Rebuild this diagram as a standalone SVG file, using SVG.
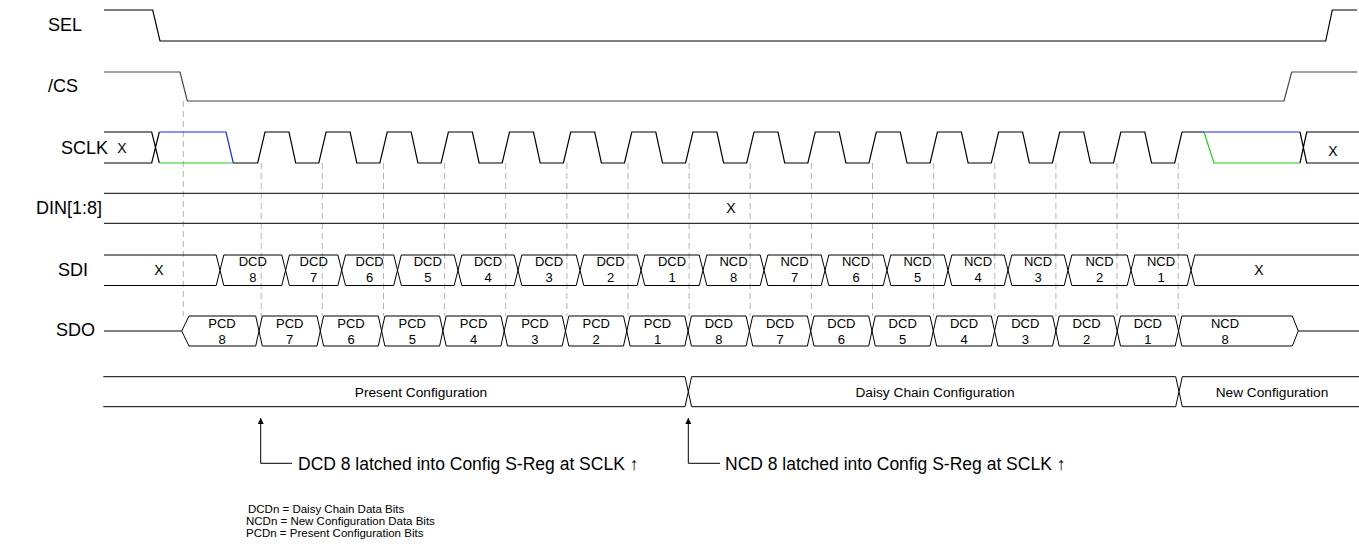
<svg xmlns="http://www.w3.org/2000/svg" width="1359" height="552" viewBox="0 0 1359 552">
<style>
.sig{fill:none;stroke:#000;stroke-width:1.2}
.cs{fill:none;stroke:#444;stroke-width:1.2}
.bus{fill:none;stroke:#000;stroke-width:1}
.dash{fill:none;stroke:#b4b4b4;stroke-width:1;stroke-dasharray:6,4}
.lbl{font-family:"Liberation Sans",Arial,sans-serif;font-size:18px;fill:#000}
.cell{font-family:"Liberation Sans",Arial,sans-serif;font-size:13px;fill:#000;text-anchor:middle}
.x{font-family:"Liberation Sans",Arial,sans-serif;font-size:14px;fill:#000;text-anchor:middle}
.cfg{font-family:"Liberation Sans",Arial,sans-serif;font-size:13.7px;fill:#000;text-anchor:middle}
.note{font-family:"Liberation Sans",Arial,sans-serif;font-size:17.5px;fill:#000}
.leg{font-family:"Liberation Sans",Arial,sans-serif;font-size:11.5px;fill:#000}
</style>
<defs>
<marker id="ah" markerWidth="8" markerHeight="8" refX="6" refY="3" orient="auto" markerUnits="userSpaceOnUse">
<path d="M0,0 L6,3 L0,6 Z" fill="#000"/>
</marker>
</defs>

<g id="guides">
<path class="dash" d="M183.3,101 V316 M261.2,163 V316 M322.3,163 V316 M383.5,163 V316 M444.6,163 V316 M505.7,163 V316 M566.9,163 V316 M628,163 V316 M689.1,163 V316 M750.2,163 V316 M811.4,163 V316 M872.5,163 V316 M933.6,163 V316 M994.8,163 V316 M1055.9,163 V316 M1117,163 V316 M1178.2,163 V316"/>
</g>

<g id="labels">
<text class="lbl" x="48" y="31">SEL</text>
<text class="lbl" x="48" y="92">/CS</text>
<text class="lbl" x="61" y="154">SCLK</text>
<text class="lbl" x="36" y="214">DIN[1:8]</text>
<text class="lbl" x="58" y="276">SDI</text>
<text class="lbl" x="56" y="336">SDO</text>
</g>

<g id="SEL">
<path class="sig" d="M104,10 H152.7 L160,41 H1325.7 L1332.3,10 H1357"/>
</g>

<g id="CS">
<path class="cs" d="M104,72 H180 L187.3,101 H1284 L1291.7,72 H1357"/>
</g>

<g id="SCLK">
<path class="sig" d="M104,132 H151.7 L159.3,163 M104,163 H151.7 L159.3,132"/>
<path fill="none" stroke="#2222ee" stroke-width="1.2" d="M159.3,132 H226 L233.3,163 M1204,132 H1300"/>
<path fill="none" stroke="#22cc22" stroke-width="1.2" d="M159.3,163 H233.3 M1204,132 L1214,163 H1300"/>
<path class="sig" d="M233.3,163 H257.7 L265,132 H289 L295.7,163 H318.8 L326.1,132 H350.1 L356.8,163 H379.9 L387.2,132 H411.2 L417.9,163 H441.1 L448.4,132 H472.4 L479.1,163 H502.2 L509.5,132 H533.5 L540.2,163 H563.4 L570.7,132 H594.7 L601.4,163 H624.5 L631.8,132 H655.8 L662.5,163 H685.6 L692.9,132 H716.9 L723.6,163 H746.7 L754,132 H778 L784.7,163 H807.9 L815.2,132 H839.2 L845.9,163 H869 L876.3,132 H900.3 L907,163 H930.1 L937.4,132 H961.4 L968.1,163 H991.3 L998.6,132 H1022.6 L1029.3,163 H1052.4 L1059.7,132 H1083.7 L1090.4,163 H1113.5 L1120.8,132 H1144.8 L1151.5,163 H1174.7 L1182,132 H1204"/>
<path class="sig" d="M1300,132 L1306.7,163 H1359 M1300,163 L1306.7,132 H1359"/>
<text class="x" x="122" y="153">X</text>
<text class="x" x="1333" y="156">X</text>
</g>

<g id="DIN">
<path class="bus" d="M104,193.3 H1359 M104,223.3 H1359"/>
<text class="x" x="731" y="213">X</text>
</g>

<g id="SDI">
<path class="bus" d="M104,255 H216.2 L220,270.25 L216.2,285.5 H104
M220,270.25 L223.8,255 H281.8 L285.6,270.25 L281.8,285.5 H223.8 Z
M285.6,270.25 L289.4,255 H337.9 L341.7,270.25 L337.9,285.5 H289.4 Z
M341.7,270.25 L345.5,255 H393.7 L397.5,270.25 L393.7,285.5 H345.5 Z
M397.5,270.25 L401.3,255 H454.2 L458,270.25 L454.2,285.5 H401.3 Z
M458,270.25 L461.8,255 H514.2 L518,270.25 L514.2,285.5 H461.8 Z
M518,270.25 L521.8,255 H576.2 L580,270.25 L576.2,285.5 H521.8 Z
M580,270.25 L583.8,255 H637.2 L641,270.25 L637.2,285.5 H583.8 Z
M641,270.25 L644.8,255 H699.2 L703,270.25 L699.2,285.5 H644.8 Z
M703,270.25 L706.8,255 H760.2 L764,270.25 L760.2,285.5 H706.8 Z
M764,270.25 L767.8,255 H821.2 L825,270.25 L821.2,285.5 H767.8 Z
M825,270.25 L828.8,255 H883.2 L887,270.25 L883.2,285.5 H828.8 Z
M887,270.25 L890.8,255 H944.2 L948,270.25 L944.2,285.5 H890.8 Z
M948,270.25 L951.8,255 H1004.2 L1008,270.25 L1004.2,285.5 H951.8 Z
M1008,270.25 L1011.8,255 H1064.2 L1068,270.25 L1064.2,285.5 H1011.8 Z
M1068,270.25 L1071.8,255 H1127.2 L1131,270.25 L1127.2,285.5 H1071.8 Z
M1131,270.25 L1134.8,255 H1187.2 L1191,270.25 L1187.2,285.5 H1134.8 Z
M1359,255 H1194.8 L1191,270.25 L1194.8,285.5 H1359"/>
<text class="x" x="159" y="275">X</text>
<text class="cell" x="252.8" y="265.5">DCD</text><text class="cell" x="252.8" y="281.5">8</text>
<text class="cell" x="313.7" y="265.5">DCD</text><text class="cell" x="313.7" y="281.5">7</text>
<text class="cell" x="369.6" y="265.5">DCD</text><text class="cell" x="369.6" y="281.5">6</text>
<text class="cell" x="427.8" y="265.5">DCD</text><text class="cell" x="427.8" y="281.5">5</text>
<text class="cell" x="488" y="265.5">DCD</text><text class="cell" x="488" y="281.5">4</text>
<text class="cell" x="549" y="265.5">DCD</text><text class="cell" x="549" y="281.5">3</text>
<text class="cell" x="610.5" y="265.5">DCD</text><text class="cell" x="610.5" y="281.5">2</text>
<text class="cell" x="672" y="265.5">DCD</text><text class="cell" x="672" y="281.5">1</text>
<text class="cell" x="733.5" y="265.5">NCD</text><text class="cell" x="733.5" y="281.5">8</text>
<text class="cell" x="794.5" y="265.5">NCD</text><text class="cell" x="794.5" y="281.5">7</text>
<text class="cell" x="856" y="265.5">NCD</text><text class="cell" x="856" y="281.5">6</text>
<text class="cell" x="917.5" y="265.5">NCD</text><text class="cell" x="917.5" y="281.5">5</text>
<text class="cell" x="978" y="265.5">NCD</text><text class="cell" x="978" y="281.5">4</text>
<text class="cell" x="1038" y="265.5">NCD</text><text class="cell" x="1038" y="281.5">3</text>
<text class="cell" x="1099.5" y="265.5">NCD</text><text class="cell" x="1099.5" y="281.5">2</text>
<text class="cell" x="1161" y="265.5">NCD</text><text class="cell" x="1161" y="281.5">1</text>
<text class="x" x="1259" y="275">X</text>
</g>

<g id="SDO">
<path class="bus" d="M104,331 H181.7
M181.7,331 L189,316 H255.7 L259,331 L255.7,346 H189 Z
M259,331 L262.3,316 H317 L320.3,331 L317,346 H262.3 Z
M320.3,331 L323.6,316 H378.3 L381.6,331 L378.3,346 H323.6 Z
M381.6,331 L384.9,316 H439.6 L442.9,331 L439.6,346 H384.9 Z
M442.9,331 L446.2,316 H500.9 L504.2,331 L500.9,346 H446.2 Z
M504.2,331 L507.5,316 H562.2 L565.5,331 L562.2,346 H507.5 Z
M565.5,331 L568.8,316 H623.5 L626.8,331 L623.5,346 H568.8 Z
M626.8,331 L630.1,316 H684.8 L688.1,331 L684.8,346 H630.1 Z
M688.1,331 L691.4,316 H746.1 L749.4,331 L746.1,346 H691.4 Z
M749.4,331 L752.7,316 H807.4 L810.7,331 L807.4,346 H752.7 Z
M810.7,331 L814,316 H868.7 L872,331 L868.7,346 H814 Z
M872,331 L875.3,316 H930 L933.3,331 L930,346 H875.3 Z
M933.3,331 L936.6,316 H991.3 L994.6,331 L991.3,346 H936.6 Z
M994.6,331 L997.9,316 H1052.6 L1055.9,331 L1052.6,346 H997.9 Z
M1055.9,331 L1059.2,316 H1113.9 L1117.2,331 L1113.9,346 H1059.2 Z
M1117.2,331 L1120.5,316 H1175.2 L1178.5,331 L1175.2,346 H1120.5 Z
M1178.5,331 L1181.8,316 H1292.3 L1298.3,331 L1292.3,346 H1181.8 Z
M1298.3,331 H1359"/>
<text class="cell" x="222" y="328.3">PCD</text><text class="cell" x="222" y="344">8</text>
<text class="cell" x="289.7" y="328.3">PCD</text><text class="cell" x="289.7" y="344">7</text>
<text class="cell" x="351" y="328.3">PCD</text><text class="cell" x="351" y="344">6</text>
<text class="cell" x="412.3" y="328.3">PCD</text><text class="cell" x="412.3" y="344">5</text>
<text class="cell" x="473.6" y="328.3">PCD</text><text class="cell" x="473.6" y="344">4</text>
<text class="cell" x="534.9" y="328.3">PCD</text><text class="cell" x="534.9" y="344">3</text>
<text class="cell" x="596.2" y="328.3">PCD</text><text class="cell" x="596.2" y="344">2</text>
<text class="cell" x="657.5" y="328.3">PCD</text><text class="cell" x="657.5" y="344">1</text>
<text class="cell" x="718.8" y="328.3">DCD</text><text class="cell" x="718.8" y="344">8</text>
<text class="cell" x="780" y="328.3">DCD</text><text class="cell" x="780" y="344">7</text>
<text class="cell" x="841.4" y="328.3">DCD</text><text class="cell" x="841.4" y="344">6</text>
<text class="cell" x="902.7" y="328.3">DCD</text><text class="cell" x="902.7" y="344">5</text>
<text class="cell" x="964" y="328.3">DCD</text><text class="cell" x="964" y="344">4</text>
<text class="cell" x="1025.3" y="328.3">DCD</text><text class="cell" x="1025.3" y="344">3</text>
<text class="cell" x="1086.6" y="328.3">DCD</text><text class="cell" x="1086.6" y="344">2</text>
<text class="cell" x="1147.9" y="328.3">DCD</text><text class="cell" x="1147.9" y="344">1</text>
<text class="cell" x="1225" y="328.3">NCD</text><text class="cell" x="1225" y="344">8</text>
</g>

<g id="config">
<path class="bus" d="M103.3,376.7 H685 L688.3,391.7 L685,406.7 H103.3
M688.3,391.7 L691.6,376.7 H1175.7 L1179,391.7 L1175.7,406.7 H691.6 Z
M1359,376.7 H1182.3 L1179,391.7 L1182.3,406.7 H1359"/>
<text class="cfg" x="421" y="396.5">Present Configuration</text>
<text class="cfg" x="935" y="396.5">Daisy Chain Configuration</text>
<text class="cfg" x="1272" y="396.5">New Configuration</text>
</g>

<g id="connectors">
<path fill="none" stroke="#000" stroke-width="1" marker-end="url(#ah)" d="M292,463.3 H260.7 V418"/>
<path fill="none" stroke="#000" stroke-width="1" marker-end="url(#ah)" d="M720,463.3 H688.3 V418"/>
</g>

<g id="notes">
<text class="note" x="298" y="469.5">DCD 8 latched into Config S-Reg at SCLK ↑</text>
<text class="note" x="725" y="469.5">NCD 8 latched into Config S-Reg at SCLK ↑</text>
<text class="leg" x="248" y="513">DCDn = Daisy Chain Data Bits</text>
<text class="leg" x="246" y="525">NCDn = New Configuration Data Bits</text>
<text class="leg" x="246" y="537">PCDn = Present Configuration Bits</text>
</g>
</svg>
